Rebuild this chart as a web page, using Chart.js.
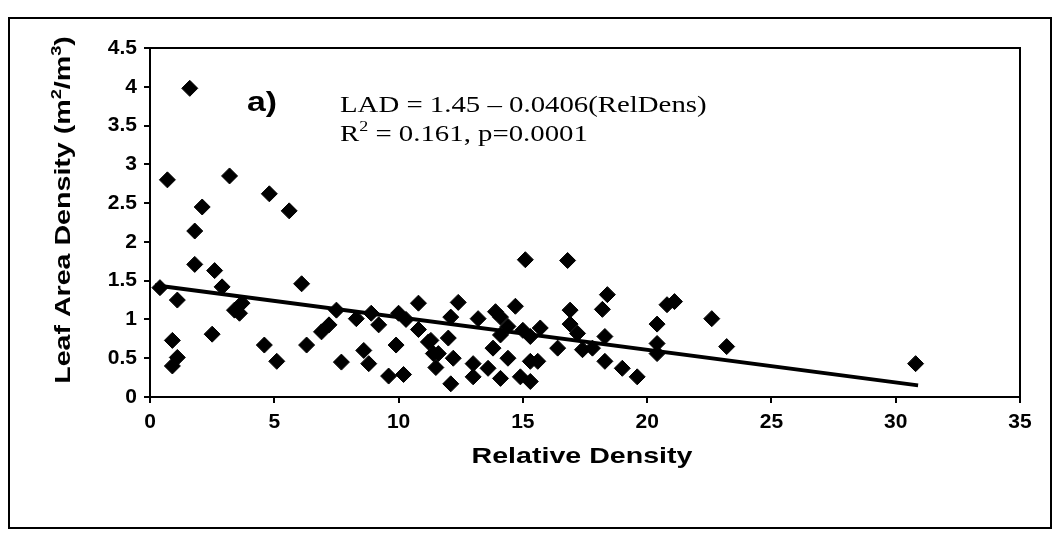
<!DOCTYPE html>
<html>
<head>
<meta charset="utf-8">
<script src="https://cdn.jsdelivr.net/npm/chart.js@4/dist/chart.umd.min.js"></script>
<style>
  html, body { margin: 0; padding: 0; background: #fff; }
  #wrap { position: relative; width: 1055px; height: 540px; }
  #frame { position: absolute; left: 8px; top: 17px; width: 1040px; height: 508px; border: 2px solid #000; pointer-events: none; }
</style>
</head>
<body>
<div id="wrap">
  <canvas id="grafico" width="1055" height="540"></canvas>
  <div id="frame"></div>
</div>
<script>
// valores
const relDens = [1.6, 0.7, 3.2, 4.8, 2.1, 5.6, 1.8, 1.8, 2.6, 2.9, 0.4, 1.1, 6.1, 3.7, 3.4, 3.6,
    7.5, 8.3, 7.2, 6.9, 8.9, 9.2, 10.0, 10.3, 10.8, 10.8, 0.9, 2.5, 1.1, 0.9, 4.6, 5.1, 6.3,
    7.7, 8.6, 8.8, 9.9, 9.6, 10.2, 11.2, 11.4, 11.5, 12.4, 12.1, 13.2, 13.9, 14.1, 14.7, 15.1,
    16.8, 18.4, 18.2, 16.9, 16.9, 17.2, 18.3, 15.7, 15.0, 15.3, 14.4, 14.1, 13.8, 11.3, 12.0,
    11.6, 12.2, 12.1, 13.0, 13.0, 13.6, 14.4, 14.1, 14.9, 15.3, 15.3, 15.6, 16.4, 17.4, 17.8,
    18.3, 19.0, 19.6, 20.4, 20.4, 20.4, 20.8, 21.1, 22.6, 23.2, 30.8];
const leafArea = [3.98, 2.80, 2.85, 2.62, 2.45, 2.40, 2.14, 1.71, 1.63, 1.42, 1.41, 1.25, 1.46, 1.21, 1.12, 1.08,
    1.12, 1.01, 0.93, 0.84, 1.08, 0.93, 1.08, 1.00, 1.21, 0.87, 0.73, 0.81, 0.51, 0.40, 0.67, 0.46, 0.67,
    0.45, 0.60, 0.43, 0.67, 0.27, 0.29, 0.71, 0.56, 0.38, 1.22, 1.03, 1.01, 1.10, 1.03, 1.17, 1.77,
    1.76, 1.32, 1.13, 1.12, 0.94, 0.82, 0.78, 0.89, 0.86, 0.78, 0.91, 0.80, 0.63, 0.73, 0.76,
    0.56, 0.50, 0.17, 0.43, 0.26, 0.37, 0.50, 0.24, 0.26, 0.20, 0.46, 0.46, 0.63, 0.61, 0.63,
    0.46, 0.37, 0.26, 0.94, 0.69, 0.56, 1.19, 1.23, 1.01, 0.65, 0.43];

// reta de regressao (extremos)
const retaX = [0.2, 30.9];
const retaY = [1.44, 0.15];

const textoEquacao = ['LAD = 1.45 \u2013 0.0406(RelDens)', 'R', '2', ' = 0.161, p=0.0001'];

const pontos = relDens.map((x, i) => ({ x: x, y: leafArea[i] }));
const reta = retaX.map((x, i) => ({ x: x, y: retaY[i] }));

const SANS = '"Liberation Sans", Arial, sans-serif';
const SERIF = '"Liberation Serif", "Times New Roman", serif';
const fonteTick = { family: SANS, size: 21, weight: 'bold' };

// texto esticado na horizontal (o grafico original e mais largo)
function textoLargo(c, txt, x, y, esticar) {
    c.save();
    c.translate(x, y);
    c.scale(esticar, 1);
    c.fillText(txt, 0, 0);
    const w = c.measureText(txt).width * esticar;
    c.restore();
    return w;
}

const molduraPlugin = {
    id: 'moldura',
    afterDraw(chart) {
        const a = chart.chartArea;
        const c = chart.ctx;
        c.save();
        c.strokeStyle = '#000';
        c.lineWidth = 2;
        c.strokeRect(a.left, a.top, a.right - a.left, a.bottom - a.top);
        c.fillStyle = '#000';
        c.textBaseline = 'alphabetic';

        c.font = 'bold 27px ' + SANS;
        textoLargo(c, 'a)', 247, 111, 1.25);

        c.font = '24px ' + SERIF;
        textoLargo(c, textoEquacao[0], 340, 112, 1.2);
        let x = 340;
        x += textoLargo(c, textoEquacao[1], x, 141, 1.2);
        c.font = '15px ' + SERIF;
        x += textoLargo(c, textoEquacao[2], x, 131, 1.2);
        c.font = '24px ' + SERIF;
        textoLargo(c, textoEquacao[3], x, 141, 1.2);

        // titulo eixo x
        c.font = 'bold 22px ' + SANS;
        const tx = 'Relative Density';
        const wx = c.measureText(tx).width * 1.3;
        textoLargo(c, tx, 582 - wx / 2, 463, 1.3);

        // titulo eixo y com sobrescritos
        c.save();
        c.translate(70, 210);
        c.rotate(-Math.PI / 2);
        const partes = [['Leaf Area Density (m', 22, 0], ['2', 14, -9], ['/m', 22, 0], ['3', 14, -9], [')', 22, 0]];
        let total = 0;
        partes.forEach(p => { c.font = 'bold ' + p[1] + 'px ' + SANS; total += c.measureText(p[0]).width * 1.3; });
        let px = -total / 2;
        partes.forEach(p => {
            c.font = 'bold ' + p[1] + 'px ' + SANS;
            px += textoLargo(c, p[0], px, p[2], 1.3);
        });
        c.restore();

        c.restore();
    }
};

new Chart(document.getElementById('grafico'), {
    type: 'scatter',
    data: {
        datasets: [
            {
                label: 'LAD',
                data: pontos,
                pointStyle: 'rectRot',
                pointRadius: 8,
                backgroundColor: '#000',
                borderColor: '#000',
                borderWidth: 1
            },
            {
                type: 'line',
                label: 'Regressao',
                data: reta,
                borderColor: '#000',
                borderWidth: 4,
                pointRadius: 0,
                fill: false
            }
        ]
    },
    options: {
        responsive: false,
        animation: false,
        layout: { padding: { top: 48, right: 35, left: 0, bottom: 0 } },
        plugins: {
            legend: { display: false },
            tooltip: { enabled: false }
        },
        scales: {
            x: {
                type: 'linear',
                min: 0,
                max: 35,
                ticks: { stepSize: 5, color: '#000', font: fonteTick, padding: 7, maxRotation: 0 },
                grid: { drawOnChartArea: false, drawTicks: true, tickLength: 6, color: '#000', lineWidth: 2 },
                border: { display: true, color: '#000', width: 2 },
                afterFit: function (s) { s.height = 143; }
            },
            y: {
                min: 0,
                max: 4.5,
                ticks: {
                    stepSize: 0.5, color: '#000', font: fonteTick, padding: 7,
                    callback: function (v) { return String(Math.round(v * 10) / 10); }
                },
                grid: { drawOnChartArea: false, drawTicks: true, tickLength: 6, color: '#000', lineWidth: 2 },
                border: { display: true, color: '#000', width: 2 },
                afterFit: function (s) { s.width = 150; }
            }
        }
    },
    plugins: [molduraPlugin]
});
</script>
</body>
</html>
